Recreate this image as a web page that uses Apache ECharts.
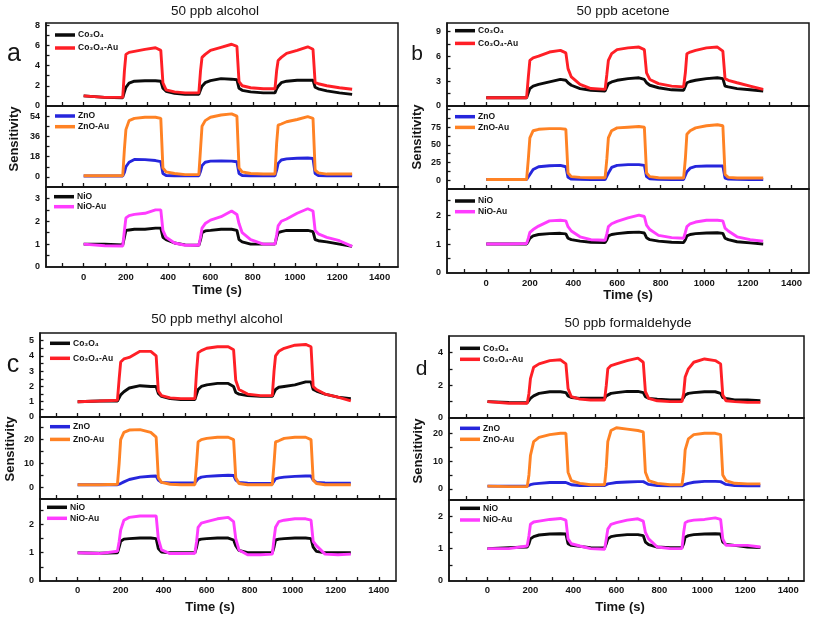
<!DOCTYPE html>
<html><head><meta charset="utf-8">
<script src="https://cdn.jsdelivr.net/npm/echarts@6/dist/echarts.min.js"></script>
<style>html,body{margin:0;padding:0;background:#fff}#c{width:813px;height:617px}</style>
</head><body><div id="c"></div>
<script>
// ---------- DATA ----------
const time = [0, 100, 185, 193, 200, 215, 240, 290, 340, 365, 375, 390, 430, 480, 545, 553, 560, 575, 600, 650, 700, 725, 735, 750, 790, 850, 905, 913, 920, 935, 960, 1010, 1060, 1085, 1095, 1110, 1150, 1210, 1270];

// (a) 50 ppb alcohol
const coA    = [1.0,0.85,0.82,1.4,1.85,2.25,2.45,2.5,2.5,2.45,1.75,1.45,1.25,1.15,1.15,1.6,1.95,2.3,2.5,2.7,2.65,2.6,1.75,1.55,1.4,1.3,1.3,1.7,1.95,2.3,2.45,2.55,2.55,2.55,1.85,1.7,1.5,1.3,1.15];
const coAuA  = [1.0,0.85,0.85,3.5,5.1,5.3,5.4,5.6,5.75,5.5,2.3,1.6,1.4,1.3,1.3,3.5,4.8,5.1,5.5,5.8,6.1,5.9,2.4,2.0,1.8,1.7,1.7,3.5,4.5,4.8,5.2,5.5,5.85,5.6,2.3,2.2,2.0,1.8,1.65];
const znA    = [0.8,0.8,0.8,4,9,13,15.5,15.3,14.5,13.5,3,1.2,1,1,1,5,10,13,14,14.2,14,13.5,3,1.2,1,1,1,6,12,15,16,16.5,16.8,16.3,3,1.2,1,1,1];
const znAuA  = [1,1,1,25,42,50,52,53,53,52,8,4.5,3,2,2,25,45,50,53,55,56,54,8,4.5,3,2.5,2.5,30,46,47,49,51,53.5,52,6,3.5,2.5,2.5,2.5];
const niA    = [1.0,1.0,0.97,1.3,1.6,1.62,1.65,1.65,1.7,1.7,1.3,1.2,1.05,0.97,0.95,1.2,1.5,1.58,1.6,1.65,1.65,1.6,1.2,1.1,1.0,1.0,1.0,1.3,1.5,1.55,1.6,1.6,1.6,1.55,1.2,1.15,1.1,1.0,0.9];
const niAuA  = [1.0,0.93,0.92,1.6,2.15,2.25,2.3,2.35,2.5,2.5,1.6,1.3,1.05,0.95,0.95,1.3,1.7,1.9,2.05,2.2,2.45,2.3,1.9,1.5,1.2,1.0,1.0,1.4,1.8,2.0,2.1,2.35,2.55,2.45,1.6,1.45,1.3,1.15,0.9];

// (b) 50 ppb acetone
const coB    = [1.0,1.0,1.0,1.6,2.1,2.4,2.6,2.9,3.2,3.1,2.8,2.5,2.1,1.9,1.8,2.3,2.7,2.9,3.1,3.3,3.4,3.2,2.8,2.5,2.2,1.95,1.9,2.4,2.8,2.95,3.1,3.3,3.4,3.3,2.4,2.3,2.1,1.95,1.8];
const coAuB  = [1.0,1.0,1.0,3.5,5.5,5.8,6.0,6.5,6.7,6.4,4.5,3.5,2.6,2.1,2.0,3.8,5.5,6.3,6.8,7.0,7.1,6.8,4.0,3.2,2.7,2.4,2.3,4.0,6.3,6.5,6.7,7.0,7.1,6.6,3.3,3.1,2.8,2.4,2.0];
const znB    = [1,1,1,3,8,15,19,20.5,21,19,4,1.5,1.2,1,1,3,10,18,21,22,22,21,5,2,1.2,1,1,3,12,17,19.5,20,20,20,3,1.5,1.2,1,1];
const znAuB  = [1,1,1,30,60,70,72,73,73,72,10,5,4,3.5,3.5,30,60,70,74,75,76,75,10,5,3.5,3,3,30,65,70,74,77,78.5,77,8,4,3,3,3];
const niB    = [1.0,1.0,1.0,1.1,1.2,1.28,1.33,1.36,1.37,1.35,1.2,1.15,1.1,1.06,1.05,1.15,1.28,1.33,1.36,1.4,1.41,1.38,1.22,1.15,1.1,1.06,1.05,1.15,1.28,1.33,1.36,1.38,1.39,1.37,1.2,1.15,1.08,1.04,1.0];
const niAuB  = [1.0,1.0,1.02,1.2,1.4,1.5,1.62,1.8,1.82,1.8,1.6,1.45,1.25,1.15,1.13,1.35,1.6,1.7,1.78,1.9,2.0,1.95,1.65,1.5,1.3,1.22,1.2,1.4,1.6,1.7,1.76,1.82,1.82,1.8,1.55,1.45,1.25,1.15,1.1];

// (c) 50 ppb methyl alcohol
const coC    = [1.0,1.05,1.05,1.25,1.45,1.65,1.9,2.05,2.0,2.0,1.55,1.35,1.2,1.15,1.15,1.5,1.8,2.0,2.1,2.2,2.2,2.0,1.6,1.5,1.4,1.35,1.35,1.6,1.8,1.95,2.0,2.1,2.3,2.3,1.8,1.7,1.5,1.3,1.2];
const coAuC  = [1.0,1.05,1.1,2.5,3.6,3.8,3.9,4.3,4.3,4.0,1.7,1.4,1.25,1.2,1.2,3.0,4.2,4.35,4.5,4.6,4.6,4.4,2.4,1.8,1.5,1.4,1.4,3.0,4.0,4.3,4.5,4.7,4.75,4.6,2.0,1.8,1.5,1.3,1.05];
const znC    = [1,1,1,1.2,1.5,2.2,3.2,4.2,4.6,4.7,3,2,1.8,1.8,1.8,2.5,3.5,4.2,4.5,4.8,5,4.9,3,2,1.6,1.5,1.5,2.5,3.5,3.9,4.2,4.5,4.7,4.7,3,2,1.8,1.7,1.7];
const znAuC  = [1,1,1.2,10,20,23,24,24.2,23,21,4,2,1.2,1,1,10,19,20,20.5,21,21,20,4,1.5,1,1,1,10,19,19.5,20.5,21,21,20,3,1.5,1,1,1];
const niC    = [1.0,0.98,1.0,1.2,1.4,1.48,1.5,1.52,1.52,1.5,1.15,1.02,1.0,1.0,1.0,1.2,1.45,1.48,1.5,1.52,1.52,1.45,1.25,1.08,1.0,1.0,1.0,1.2,1.45,1.48,1.5,1.52,1.52,1.5,1.2,1.05,1.0,1.0,1.0];
const niAuC  = [1.0,0.97,1.05,1.4,1.8,2.15,2.25,2.3,2.3,2.3,1.5,1.1,0.97,0.97,0.98,1.4,1.9,2.05,2.1,2.2,2.25,2.1,1.5,1.1,0.93,0.93,0.95,1.5,1.9,2.1,2.15,2.2,2.2,2.15,1.4,1.25,0.95,0.93,0.95];

// (d) 50 ppb formaldehyde
const coD    = [1.0,0.95,0.93,1.05,1.2,1.35,1.5,1.6,1.6,1.55,1.35,1.25,1.2,1.2,1.2,1.35,1.45,1.5,1.55,1.62,1.62,1.55,1.3,1.2,1.15,1.1,1.1,1.25,1.4,1.5,1.55,1.6,1.6,1.5,1.25,1.2,1.1,1.1,1.05];
const coAuD  = [1.0,0.9,0.9,1.5,2.4,3.1,3.3,3.5,3.55,3.3,1.8,1.3,1.15,1.1,1.1,2.0,3.0,3.2,3.3,3.5,3.65,3.4,1.6,1.2,1.05,1.0,1.0,1.5,2.5,3.0,3.4,3.6,3.5,3.3,1.4,1.05,1.0,0.95,0.95];
const znD    = [1,1,1,1.2,1.5,1.8,2,2.3,2.3,2.3,2,1.5,1.2,1.2,1.2,1.5,1.8,2,2.3,2.5,2.6,2.6,2.2,1.6,1.2,1.1,1.1,1.3,1.6,2,2.4,2.7,2.7,2.6,2.2,1.6,1.2,1.1,1.1];
const znAuD  = [1,0.8,0.8,5,12,17,18.5,19.5,20,20,6,3,2,1.5,1.5,8,17,21,22,21.5,21,20.5,6,3,2,1.5,1.5,6,14,18,19.5,20,20,19.5,5,3,2,1.8,1.8];
const niD    = [1.0,1.03,1.05,1.15,1.3,1.37,1.42,1.45,1.46,1.45,1.15,1.1,1.07,1.03,1.02,1.15,1.3,1.37,1.4,1.43,1.43,1.4,1.2,1.12,1.05,1.03,1.03,1.15,1.35,1.4,1.43,1.45,1.46,1.45,1.2,1.13,1.1,1.05,1.03];
const niAuD  = [1.0,1.0,1.08,1.4,1.75,1.82,1.85,1.9,1.93,1.88,1.3,1.15,1.08,1.0,0.98,1.3,1.6,1.75,1.8,1.88,1.92,1.85,1.5,1.3,1.05,1.0,1.0,1.5,1.8,1.85,1.88,1.9,1.95,1.9,1.3,1.1,1.1,1.1,1.05];

// tick labels
const xTickLabels = [0,200,400,600,800,1000,1200,1400];
const xTickMarks  = [-100,0,100,200,300,400,500,600,700,800,900,1000,1100,1200,1300,1400];
const yLabA1 = [0,2,4,6,8],   yTickA1 = [1,2,3,4,5,6,7,8];
const yLabA2 = [0,18,36,54],  yTickA2 = [0,9,18,27,36,45,54];
const yLabA3 = [0,1,2,3],     yTickA3 = [0.5,1,1.5,2,2.5,3];
const yLabB1 = [0,3,6,9],     yTickB1 = [1.5,3,4.5,6,7.5,9];
const yLabB2 = [0,25,50,75],  yTickB2 = [0,12.5,25,37.5,50,62.5,75,87.5,100];
const yLabB3 = [0,1,2],       yTickB3 = [0.5,1,1.5,2,2.5];
const yLabC1 = [0,1,2,3,4,5], yTickC1 = [0.5,1,1.5,2,2.5,3,3.5,4,4.5,5];
const yLabC2 = [0,10,20],     yTickC2 = [0,5,10,15,20,25];
const yLabC3 = [0,1,2],       yTickC3 = [0.5,1,1.5,2,2.5];
const yLabD1 = [0,2,4],       yTickD1 = [1,2,3,4];
const yLabD2 = [0,10,20],     yTickD2 = [0,5,10,15,20];
const yLabD3 = [0,1,2],       yTickD3 = [0.5,1,1.5,2];

const titles = ['50 ppb alcohol','50 ppb acetone','50 ppb methyl alcohol','50 ppb formaldehyde'];
const letters = ['a','b','c','d'];

// ---------- STYLE / LAYOUT ----------
const FONT = '"Liberation Sans", Arial, sans-serif';
const C = {black:'#0b0b0b', red:'#ff1f26', blue:'#2626dc', orange:'#ff8224', magenta:'#ff3cff'};
const N = {co:'Co\u2083O\u2084', coAu:'Co\u2083O\u2084-Au', zn:'ZnO', znAu:'ZnO-Au', ni:'NiO', niAu:'NiO-Au'};

const panels = [
  {x0:46, x1:398, xmin:-178, xmax:1487, rows:[[23,106],[106,187],[187,267]], xMargin:5,
   title:[215,11], letter:[14,42,25], sens:[14,139], time:[217,290],
   subs:[
    {d:[coA,coAuA], n:[N.co,N.coAu], c:[C.black,C.red], min:0, max:8.2, lab:yLabA1, tk:yTickA1, lg:[55,35,13]},
    {d:[znA,znAuA], n:[N.zn,N.znAu], c:[C.blue,C.orange], min:-9, max:63, lab:yLabA2, tk:yTickA2, lg:[55,116,10.7]},
    {d:[niA,niAuA], n:[N.ni,N.niAu], c:[C.black,C.magenta], min:0, max:3.5, lab:yLabA3, tk:yTickA3, lg:[54,196.7,10]}]},
  {x0:447, x1:809, xmin:-180, xmax:1480, rows:[[23,106],[106,189],[189,273]], xMargin:5,
   title:[623,11], letter:[417,44,21], sens:[417,137], time:[628,295],
   subs:[
    {d:[coB,coAuB], n:[N.co,N.coAu], c:[C.black,C.red], min:0, max:10, lab:yLabB1, tk:yTickB1, lg:[455,30.7,12.7]},
    {d:[znB,znAuB], n:[N.zn,N.znAu], c:[C.blue,C.orange], min:-12.5, max:105, lab:yLabB2, tk:yTickB2, lg:[455,116.7,10.7]},
    {d:[niB,niAuB], n:[N.ni,N.niAu], c:[C.black,C.magenta], min:0, max:2.9, lab:yLabB3, tk:yTickB3, lg:[455,201,10.7]}]},
  {x0:40, x1:396, xmin:-175, xmax:1480, rows:[[333,417],[417,499],[499,581]], xMargin:4,
   title:[217,319], letter:[13,352.5,25], sens:[10,449], time:[210,607],
   subs:[
    {d:[coC,coAuC], n:[N.co,N.coAu], c:[C.black,C.red], min:0, max:5.5, lab:yLabC1, tk:yTickC1, lg:[50,343.3,15]},
    {d:[znC,znAuC], n:[N.zn,N.znAu], c:[C.blue,C.orange], min:-5, max:29.5, lab:yLabC2, tk:yTickC2, lg:[50,426.7,12.7]},
    {d:[niC,niAuC], n:[N.ni,N.niAu], c:[C.black,C.magenta], min:0, max:2.9, lab:yLabC3, tk:yTickC3, lg:[47,507.3,11]}]},
  {x0:449, x1:804, xmin:-179, xmax:1473, rows:[[336,418],[418,500],[500,581]], xMargin:4,
   title:[628,323], letter:[421.5,359,21], sens:[418,451], time:[620,607],
   subs:[
    {d:[coD,coAuD], n:[N.co,N.coAu], c:[C.black,C.red], min:0, max:5, lab:yLabD1, tk:yTickD1, lg:[460,348.3,11]},
    {d:[znD,znAuD], n:[N.zn,N.znAu], c:[C.blue,C.orange], min:-4, max:25.5, lab:yLabD2, tk:yTickD2, lg:[460,428.3,11]},
    {d:[niD,niAuD], n:[N.ni,N.niAu], c:[C.black,C.magenta], min:0, max:2.5, lab:yLabD3, tk:yTickD3, lg:[460,508.3,11.7]}]}
];

const plain = v => String(Math.round(v * 100) / 100);
const grid=[], xAxis=[], yAxis=[], series=[], legend=[], graphic=[];
let gi = 0;
panels.forEach((P, pi) => {
  P.subs.forEach((S, ri) => {
    const r = P.rows[ri];
    grid.push({left:P.x0, top:r[0], width:P.x1-P.x0, height:r[1]-r[0], show:true,
      borderColor:'#151515', borderWidth:1.5, backgroundColor:'transparent'});
    xAxis.push({type:'value', gridIndex:gi, min:P.xmin, max:P.xmax, splitLine:{show:false},
      axisLine:{show:true, onZero:false, lineStyle:{color:'#151515', width:1.5}},
      axisTick:{show:true, inside:true, length:4, customValues:xTickMarks, lineStyle:{color:'#151515', width:1.3}},
      axisLabel:{show:ri===2, customValues:xTickLabels, formatter:plain, margin:P.xMargin, fontSize:9.5, fontWeight:'bold', color:'#151515', fontFamily:FONT}});
    yAxis.push({type:'value', gridIndex:gi, min:S.min, max:S.max, splitLine:{show:false},
      axisLine:{show:true, onZero:false, lineStyle:{color:'#151515', width:1.5}},
      axisTick:{show:true, inside:true, length:3.5, customValues:S.tk, lineStyle:{color:'#151515', width:1.3}},
      axisLabel:{customValues:S.lab, formatter:plain, margin:6, fontSize:9, fontWeight:'bold', color:'#151515', fontFamily:FONT}});
    S.d.forEach((arr, k) => {
      series.push({type:'line', name:S.n[k], xAxisIndex:gi, yAxisIndex:gi, showSymbol:false, symbol:'none',
        lineStyle:{color:S.c[k], width:2.9}, itemStyle:{color:S.c[k]}, silent:true, z:2+k,
        data: time.map((t,i)=>[t, arr[i]])});
    });
    const lh = 10;
    legend.push({left:S.lg[0], top:S.lg[1]-lh/2, orient:'vertical', padding:0, itemGap:S.lg[2]-lh,
      icon:'rect', itemWidth:20, itemHeight:3.5, selectedMode:false, data:S.n,
      textStyle:{fontSize:8.5, fontWeight:'bold', color:'#151515', fontFamily:FONT, lineHeight:lh, padding:[0,0,0,-2]}});
    gi++;
  });
  graphic.push({type:'text', x:P.title[0], y:P.title[1], style:{text:titles[pi], font:'13.5px '+FONT, fill:'#151515', align:'center', verticalAlign:'middle'}});
  graphic.push({type:'text', x:P.letter[0], y:P.letter[1], style:{text:letters[pi], font:P.letter[2]+'px '+FONT, fill:'#151515', align:'center', verticalAlign:'alphabetic'}});
  graphic.push({type:'text', x:P.sens[0], y:P.sens[1], rotation:Math.PI/2, style:{text:'Sensitivity', font:'bold 13px '+FONT, fill:'#151515', align:'center', verticalAlign:'middle'}});
  graphic.push({type:'text', x:P.time[0], y:P.time[1], style:{text:'Time (s)', font:'bold 13px '+FONT, fill:'#151515', align:'center', verticalAlign:'middle'}});
});

const chart = echarts.init(document.getElementById('c'), null, {renderer:'canvas'});
chart.setOption({animation:false, backgroundColor:'#ffffff', grid, xAxis, yAxis, series, legend, graphic});
</script></body></html>
